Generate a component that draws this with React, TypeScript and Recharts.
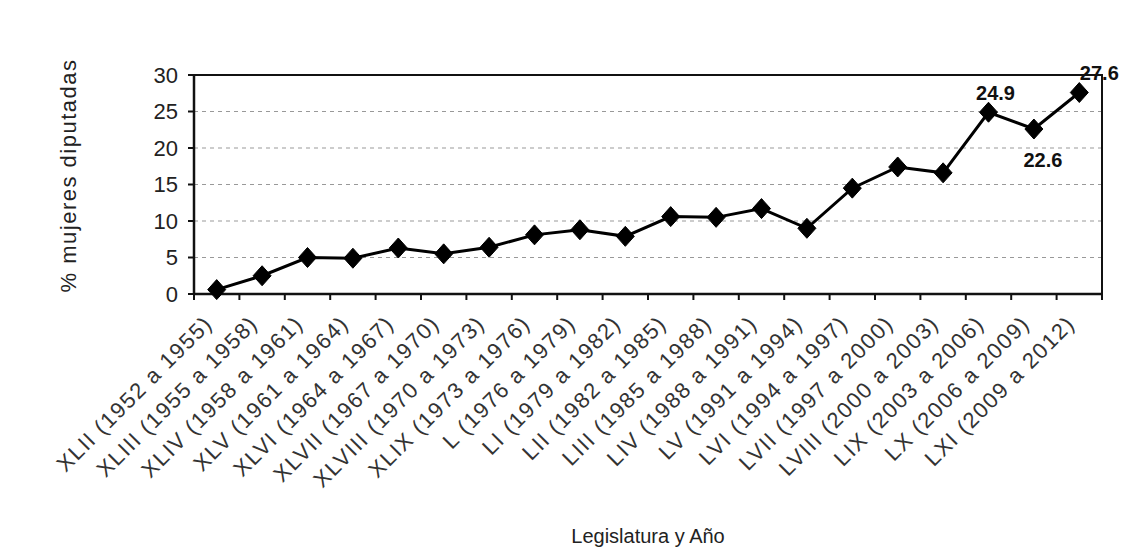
import React from 'react';
import { LineChart, Line, XAxis, YAxis, CartesianGrid, ReferenceArea, LabelList, Label } from 'recharts';

const categories = [
  'XLII (1952 a 1955)', 'XLIII (1955 a 1958)', 'XLIV (1958 a 1961)', 'XLV (1961 a 1964)',
  'XLVI (1964 a 1967)', 'XLVII (1967 a 1970)', 'XLVIII (1970 a 1973)', 'XLIX (1973 a 1976)',
  'L (1976 a 1979)', 'LI (1979 a 1982)', 'LII (1982 a 1985)', 'LIII (1985 a 1988)',
  'LIV (1988 a 1991)', 'LV (1991 a 1994)', 'LVI (1994 a 1997)', 'LVII (1997 a 2000)',
  'LVIII (2000 a 2003)', 'LIX (2003 a 2006)', 'LX (2006 a 2009)', 'LXI (2009 a 2012)',
];
const values = [0.6, 2.5, 5.0, 4.9, 6.3, 5.5, 6.4, 8.1, 8.8, 7.9, 10.6, 10.5, 11.7, 9.0, 14.5, 17.4, 16.6, 24.9, 22.6, 27.6];
const labeled = [17, 18, 19];
const yTicks = [0, 5, 10, 15, 20, 25, 30];

const data = categories.map((name, i) => ({ name, value: values[i] }));

const labelOffsets: Record<number, [number, number]> = {
  17: [7, -12],
  18: [9, 38],
  19: [20, -13],
};

const XTick = (props: any) => {
  const { x, y, payload, index, width, visibleTicksCount } = props;
  let half = 0;
  if (width && visibleTicksCount) half = width / visibleTicksCount / 2;
  else if (payload && payload.offset) half = payload.offset;
  const isLast = index === (visibleTicksCount ?? categories.length) - 1;
  return (
    <g>
      <line x1={x - half} y1={y} x2={x - half} y2={y + 6} stroke="#111" strokeWidth={2} />
      {isLast && <line x1={x + half} y1={y} x2={x + half} y2={y + 6} stroke="#111" strokeWidth={2} />}
      <text
        x={0}
        y={0}
        transform={`translate(${x - 3}, ${y + 31}) rotate(-45)`}
        textAnchor="end"
        fontSize={22}
        letterSpacing={1.5}
        fill="#333"
      >
        {payload.value}
      </text>
    </g>
  );
};

const Diamond = (props: any) => {
  const { cx, cy, index } = props;
  if (cx == null || cy == null) return <g key={index} />;
  return (
    <polygon
      key={index}
      points={`${cx},${cy - 10} ${cx + 9},${cy} ${cx},${cy + 10} ${cx - 9},${cy}`}
      fill="#000"
      stroke="#000"
      strokeWidth={1}
    />
  );
};

const ValueLabel = (props: any) => {
  const { x, y, value, index } = props;
  if (!labeled.includes(index)) return null;
  const [dx, dy] = labelOffsets[index] || [0, -12];
  return (
    <text x={x + dx} y={y + dy} textAnchor="middle" fontSize={20} fontWeight="bold" fill="#111">
      {value}
    </text>
  );
};

export default function App() {
  return (
    <div style={{ position: 'absolute', left: 0, top: 0, fontFamily: '"Liberation Sans", Arial, sans-serif', background: '#fff' }}>
      <LineChart width={1126} height={554} data={data} margin={{ top: 75, right: 24, left: 0, bottom: 0 }}>
        <CartesianGrid vertical={false} strokeDasharray="4 4" stroke="#999" />
        <ReferenceArea y1={0} y2={30} fill="none" stroke="#111" strokeWidth={2} ifOverflow="visible" />
        <XAxis
          dataKey="name"
          scale="band"
          interval={0}
          height={260}
          tickSize={0}
          tickMargin={0}
          tickLine={false}
          tick={<XTick />}
          axisLine={{ stroke: '#111', strokeWidth: 2.5 }}
        >
          <Label
            content={(p: any) => {
              const vb = p.viewBox || {};
              return (
                <text x={vb.x + vb.width / 2} y={vb.y + vb.height - 11} textAnchor="middle" fontSize={20} fill="#222">
                  Legislatura y Año
                </text>
              );
            }}
          />
        </XAxis>
        <YAxis
          width={194}
          domain={[0, 30]}
          ticks={yTicks}
          interval={0}
          tickSize={6}
          tickMargin={10}
          tick={{ fontSize: 22, fill: '#222' }}
          tickLine={{ stroke: '#111', strokeWidth: 2 }}
          axisLine={{ stroke: '#111', strokeWidth: 2.5 }}
        >
          <Label
            content={(p: any) => {
              const vb = p.viewBox || {};
              const cx = vb.x + 68;
              const cy = vb.y + vb.height / 2 - 9;
              return (
                <text x={cx} y={cy} transform={`rotate(-90, ${cx}, ${cy})`} textAnchor="middle" dominantBaseline="central" fontSize={22} letterSpacing={1.5} fill="#222">
                  % mujeres diputadas
                </text>
              );
            }}
          />
        </YAxis>
        <Line
          type="linear"
          dataKey="value"
          stroke="#000"
          strokeWidth={3}
          dot={<Diamond />}
          activeDot={false}
          isAnimationActive={false}
        >
          <LabelList dataKey="value" content={<ValueLabel />} />
        </Line>
      </LineChart>
    </div>
  );
}
